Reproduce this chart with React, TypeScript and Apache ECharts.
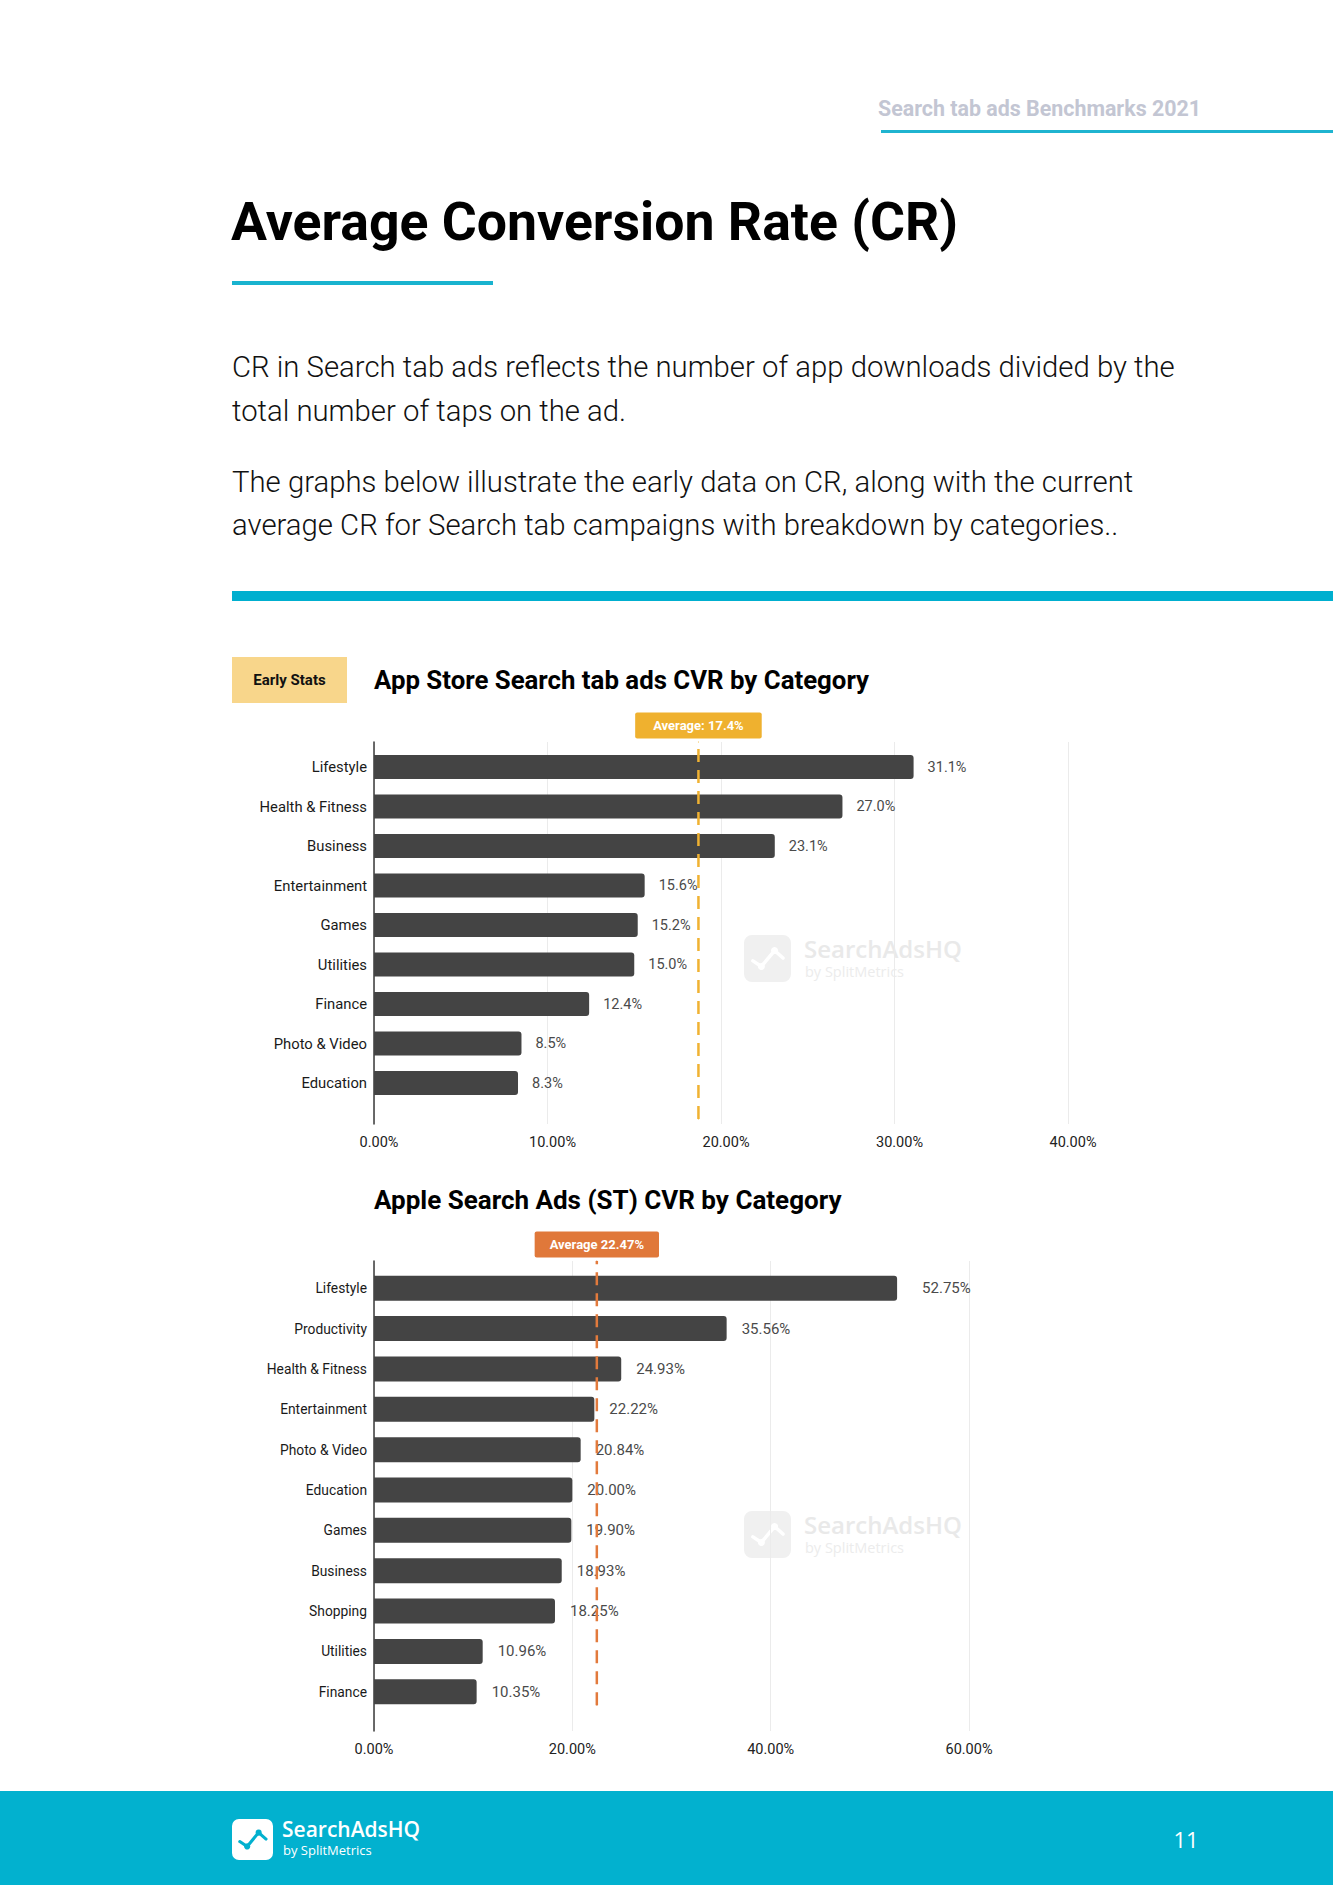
import React, { useEffect, useRef } from "react";
import * as echarts from "echarts";

// ---------- DATA ----------
const storeCategories = [
  "Lifestyle",
  "Health & Fitness",
  "Business",
  "Entertainment",
  "Games",
  "Utilities",
  "Finance",
  "Photo & Video",
  "Education",
];
const storeValues = [31.1, 27.0, 23.1, 15.6, 15.2, 15.0, 12.4, 8.5, 8.3];
const storeAverageText = "Average: 17.4%";
const storeAverageLineAt = 18.7; // where the dashed marker is drawn in the picture
const storeAxisMax = 40;
const storeAxisStep = 10;

const stCategories = [
  "Lifestyle",
  "Productivity",
  "Health & Fitness",
  "Entertainment",
  "Photo & Video",
  "Education",
  "Games",
  "Business",
  "Shopping",
  "Utilities",
  "Finance",
];
const stValues = [52.75, 35.56, 24.93, 22.22, 20.84, 20.0, 19.9, 18.93, 18.25, 10.96, 10.35];
const stAverage = 22.47;
const stAverageText = "Average 22.47%";
const stAxisMax = 60;
const stAxisStep = 20;

const paragraphLines = [
  "CR in Search tab ads reflects the number of app downloads divided by the",
  "total number of taps on the ad.",
  "The graphs below illustrate the early data on CR, along with the current",
  "average CR for Search tab campaigns with breakdown by categories..",
];

// ---------- STYLE ----------
const FONT = "Roboto, 'Noto Sans', sans-serif";
const LOGO_FONT = "'Open Sans', 'Noto Sans', sans-serif";
const CYAN = "#02b1cf";
const BAR = "#444444";

function logoIcon(x: number, y: number, s: number, bg: string, fg: string) {
  const p = (a: number, b: number) => [x + a * s, y + b * s];
  const pts = [p(0.19, 0.55), p(0.37, 0.67), p(0.65, 0.33), p(0.83, 0.49)];
  return [
    { type: "rect", shape: { x, y, width: s, height: s, r: s * 0.17 }, style: { fill: bg } },
    {
      type: "polyline",
      shape: { points: pts },
      style: { stroke: fg, lineWidth: s * 0.075, fill: null, lineCap: "round", lineJoin: "round" },
    },
    { type: "circle", shape: { cx: pts[1][0], cy: pts[1][1], r: s * 0.075 }, style: { fill: fg } },
    { type: "circle", shape: { cx: pts[2][0], cy: pts[2][1], r: s * 0.075 }, style: { fill: fg } },
  ];
}

function watermark(x: number, y: number) {
  return [
    ...logoIcon(x, y, 47, "#f0f0f0", "#ffffff"),
    {
      type: "text",
      x: x + 60,
      y: y + 13,
      style: { text: "SearchAdsHQ", font: `600 24px ${LOGO_FONT}`, fill: "#e9e9e9", verticalAlign: "middle" },
    },
    {
      type: "text",
      x: x + 61,
      y: y + 36,
      style: { text: "by SplitMetrics", font: `400 14.5px ${LOGO_FONT}`, fill: "#ececec", verticalAlign: "middle" },
    },
  ];
}

function buildOption() {
  const pct = (d: number) => (v: any) => Number(v).toFixed(d) + "%";

  const graphic: any[] = [
    // header
    {
      type: "text",
      x: 878,
      y: 108,
      style: { text: "Search tab ads Benchmarks 2021", font: `700 21.4px ${FONT}`, fill: "#c3c6d3", verticalAlign: "middle" },
    },
    { type: "rect", shape: { x: 881, y: 130, width: 452, height: 3 }, style: { fill: "#1fb4d0" } },
    // title
    {
      type: "text",
      x: 231,
      y: 221,
      style: { text: "Average Conversion Rate (CR)", font: `700 53.6px ${FONT}`, fill: "#000", verticalAlign: "middle" },
    },
    { type: "rect", shape: { x: 232, y: 281, width: 261, height: 4 }, style: { fill: "#19b3cf" } },
    // paragraph
    ...paragraphLines.map((t, i) => ({
      type: "text",
      x: 232,
      y: [367, 411, 482, 525][i],
      style: { text: t, font: `300 29.3px ${FONT}`, fill: "#111", verticalAlign: "middle" },
    })),
    // thick rule
    { type: "rect", shape: { x: 232, y: 591, width: 1101, height: 10 }, style: { fill: "#00afcf" } },
    // early stats tag
    { type: "rect", shape: { x: 232, y: 657, width: 115, height: 46 }, style: { fill: "#f8d68b" } },
    {
      type: "text",
      x: 289.5,
      y: 680,
      style: { text: "Early Stats", font: `700 15px ${FONT}`, fill: "#111", align: "center", verticalAlign: "middle" },
    },
    // chart titles
    {
      type: "text",
      x: 374,
      y: 680,
      style: { text: "App Store Search tab ads CVR by Category", font: `700 25.8px ${FONT}`, fill: "#000", verticalAlign: "middle" },
    },
    {
      type: "text",
      x: 374,
      y: 1200,
      style: { text: "Apple Search Ads (ST) CVR by Category", font: `700 26px ${FONT}`, fill: "#000", verticalAlign: "middle" },
    },
    // watermarks
    ...watermark(744, 935),
    ...watermark(744, 1511),
    // footer
    { type: "rect", shape: { x: 0, y: 1791, width: 1333, height: 94 }, style: { fill: CYAN } },
    ...logoIcon(232, 1819, 41, "#ffffff", CYAN),
    {
      type: "text",
      x: 282,
      y: 1829,
      style: { text: "SearchAdsHQ", font: `600 21px ${LOGO_FONT}`, fill: "#fff", verticalAlign: "middle" },
    },
    {
      type: "text",
      x: 283,
      y: 1850,
      style: { text: "by SplitMetrics", font: `400 13px ${LOGO_FONT}`, fill: "#fff", verticalAlign: "middle" },
    },
    {
      type: "text",
      x: 1186,
      y: 1839,
      style: { text: "11", font: `400 22px ${LOGO_FONT}`, fill: "#fff", align: "center", verticalAlign: "middle" },
    },
  ];

  const frameX = (max: number, step: number, grid: number, shift: number) => ({
    gridIndex: grid,
    type: "value",
    min: 0,
    max,
    interval: step,
    axisLine: { show: false },
    axisTick: { show: false },
    splitLine: { show: true, lineStyle: { color: "#ebebeb", width: 1 } },
    axisLabel: {
      formatter: pct(2),
      color: "#222",
      fontSize: 14.5,
      fontFamily: FONT,
      margin: 11,
      padding: [0, 0, 0, shift],
    },
  });
  const frameY = (grid: number) => ({
    gridIndex: grid,
    type: "value",
    min: 0,
    max: 1,
    axisLine: { show: true, lineStyle: { color: "#3a3a3a", width: 1.5 } },
    axisTick: { show: false },
    axisLabel: { show: false },
    splitLine: { show: false },
  });
  const barX = (max: number, grid: number) => ({ gridIndex: grid, type: "value", min: 0, max, show: false });
  const catY = (data: string[], grid: number, size: number) => ({
    gridIndex: grid,
    type: "category",
    data,
    inverse: true,
    axisLine: { show: false },
    axisTick: { show: false },
    splitLine: { show: false },
    axisLabel: { color: "#1a1a1a", fontSize: size, fontFamily: FONT, margin: 7 },
  });

  const avgLine = (
    xi: number,
    at: number,
    bottom: number,
    text: string,
    color: string,
    boxColor: string,
    padH: number
  ) => ({
    type: "line",
    xAxisIndex: xi,
    yAxisIndex: xi,
    z: 5,
    silent: true,
    symbol: "circle",
    symbolSize: 1,
    showSymbol: true,
    itemStyle: { color },
    lineStyle: { color, width: 2.5, type: [13, 8] },
    data: [
      { value: [at, bottom] },
      {
        value: [at, 1],
        label: {
          show: true,
          position: "top",
          distance: 3,
          formatter: text,
          color: "#fff",
          fontWeight: "bold",
          fontSize: 13,
          fontFamily: FONT,
          lineHeight: 14,
          backgroundColor: boxColor,
          padding: [6, padH],
          borderRadius: 2,
        },
      },
    ],
  });

  return {
    animation: false,
    backgroundColor: "#ffffff",
    graphic: { elements: graphic },
    grid: [
      { left: 374, top: 747.25, width: 694, height: 355.5 },
      { left: 374, top: 742, width: 694, height: 382 },
      { left: 374, top: 1268, width: 595, height: 444 },
      { left: 374, top: 1261, width: 595, height: 470 },
    ],
    xAxis: [
      barX(storeAxisMax, 0),
      frameX(storeAxisMax, storeAxisStep, 1, 10),
      barX(stAxisMax, 2),
      frameX(stAxisMax, stAxisStep, 3, 0),
    ],
    yAxis: [catY(storeCategories, 0, 14.8), frameY(1), catY(stCategories, 2, 13.8), frameY(3)],
    series: [
      {
        type: "bar",
        xAxisIndex: 0,
        yAxisIndex: 0,
        silent: true,
        barWidth: 24,
        data: storeValues,
        itemStyle: { color: BAR, borderRadius: [0, 3, 3, 0] },
        label: {
          show: true,
          position: "right",
          distance: 14,
          formatter: (p: any) => pct(1)(p.value),
          color: "#4a4a4a",
          fontSize: 14.5,
          fontFamily: FONT,
        },
      },
      avgLine(1, storeAverageLineAt, 0.013, storeAverageText, "#f0b232", "#efb12f", 18),
      {
        type: "bar",
        xAxisIndex: 2,
        yAxisIndex: 2,
        silent: true,
        barWidth: 25,
        data: stValues.map((v, i) => (i === 0 ? { value: v, label: { distance: 25 } } : v)),
        itemStyle: { color: BAR, borderRadius: [0, 3, 3, 0] },
        label: {
          show: true,
          position: "right",
          distance: 15,
          formatter: (p: any) => pct(2)(p.value),
          color: "#4a4a4a",
          fontSize: 15,
          fontFamily: FONT,
        },
      },
      avgLine(3, stAverage, 0.055, stAverageText, "#e27a3c", "#e0783a", 15),
    ],
  };
}

export default function App() {
  const ref = useRef<HTMLDivElement>(null);
  useEffect(() => {
    document.body.style.margin = "0";
    if (!ref.current) return;
    const chart = echarts.init(ref.current, undefined, { renderer: "svg" });
    chart.setOption(buildOption() as any);
    return () => chart.dispose();
  }, []);
  return <div ref={ref} style={{ width: 1333, height: 1885, background: "#fff" }} />;
}
